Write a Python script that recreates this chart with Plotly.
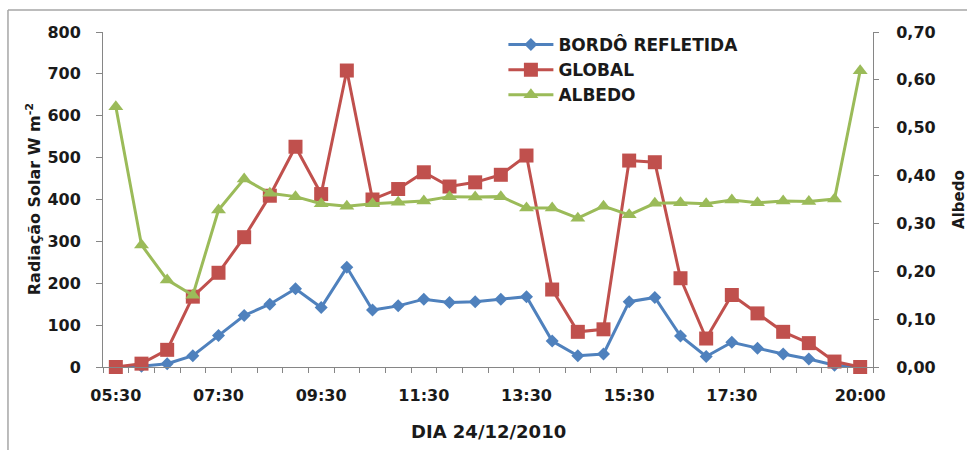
import plotly.graph_objects as go

times = ["05:30", "06:00", "06:30", "07:00", "07:30", "08:00", "08:30", "09:00", "09:30", "10:00",
         "10:30", "11:00", "11:30", "12:00", "12:30", "13:00", "13:30", "14:00", "14:30", "15:00",
         "15:30", "16:00", "16:30", "17:00", "17:30", "18:00", "18:30", "19:00", "19:30", "20:00"]

bordo_refletida = [0, 2, 8, 27, 75, 123, 150, 187, 142, 238,
                   136, 146, 162, 154, 156, 162, 168, 62, 27, 31,
                   156, 166, 74, 25, 59, 45, 31, 19, 4, 0]

global_rad = [0, 8, 41, 168, 225, 310, 409, 526, 413, 708,
              400, 425, 465, 431, 441, 459, 505, 185, 84, 90,
              493, 489, 212, 68, 172, 128, 84, 57, 13, 0]

albedo = [0.544, 0.255, 0.182, 0.150, 0.328, 0.393, 0.363, 0.356, 0.341, 0.336,
          0.341, 0.344, 0.347, 0.356, 0.355, 0.356, 0.332, 0.332, 0.311, 0.336,
          0.318, 0.342, 0.343, 0.341, 0.349, 0.343, 0.347, 0.346, 0.351, 0.619]

tick_labels = ["05:30", "07:30", "09:30", "11:30", "13:30", "15:30", "17:30", "20:00"]

BLUE = "#4F81BD"
RED = "#C0504D"
GREEN = "#9BBB59"
AXIS = "#868686"
TICKFONT = dict(family="DejaVu Sans", size=16, color="#1a1a1a", weight="bold")


def title_font(size):
    return dict(family="DejaVu Sans", size=size, color="#1a1a1a", weight="bold")


fig = go.Figure()
fig.add_trace(go.Scatter(x=times, y=bordo_refletida, name="BORDÔ REFLETIDA", mode="lines+markers",
                         line=dict(color=BLUE, width=3),
                         marker=dict(symbol="diamond", size=10, color=BLUE), cliponaxis=False))
fig.add_trace(go.Scatter(x=times, y=global_rad, name="GLOBAL", mode="lines+markers",
                         line=dict(color=RED, width=3),
                         marker=dict(symbol="square", size=14, color=RED), cliponaxis=False))
fig.add_trace(go.Scatter(x=times, y=albedo, name="ALBEDO", mode="lines+markers", yaxis="y2",
                         line=dict(color=GREEN, width=3),
                         marker=dict(symbol="triangle-up", size=13, color=GREEN), cliponaxis=False))

fig.update_layout(
    width=967, height=450,
    margin=dict(l=103, r=94, t=32, b=83, autoexpand=False),
    paper_bgcolor="white", plot_bgcolor="white",
    separators=",.",
    showlegend=True,
    legend=dict(x=0.52, y=1.015, xanchor="left", yanchor="top",
                font=dict(family="DejaVu Sans", size=17, color="#1a1a1a", weight="bold"),
                bgcolor="rgba(0,0,0,0)", itemwidth=45, tracegroupgap=0),
    xaxis=dict(type="category", categoryorder="array", categoryarray=times,
               range=[-0.5, len(times) - 0.5],
               tickvals=times, ticktext=[t if t in tick_labels else "" for t in times],
               tickson="boundaries", ticks="outside", ticklen=5, tickcolor=AXIS, tickangle=0,
               showline=True, linecolor=AXIS, linewidth=1, showgrid=False, zeroline=False,
               tickfont=TICKFONT, ticklabelstandoff=14, automargin=False),
    yaxis=dict(range=[0, 800], dtick=100, ticks="outside", ticklen=6, tickcolor=AXIS,
               showline=True, linecolor=AXIS, linewidth=1, showgrid=False, zeroline=False,
               tickfont=TICKFONT, ticklabelstandoff=12, automargin=False),
    yaxis2=dict(range=[0, 0.7], dtick=0.1, tickformat=".2f", overlaying="y", side="right",
                ticks="outside", ticklen=5, tickcolor=AXIS,
                showline=True, linecolor=AXIS, linewidth=1, showgrid=False, zeroline=False,
                tickfont=TICKFONT, ticklabelstandoff=14, automargin=False),
    annotations=[
        dict(text="DIA 24/12/2010", xref="paper", yref="paper", x=0.501, y=-0.194,
             showarrow=False, font=title_font(18), xanchor="center", yanchor="middle"),
        dict(text="Radiação Solar W m<sup>-2</sup>", xref="paper", yref="paper", x=-0.09, y=0.5,
             showarrow=False, font=title_font(16), textangle=-90, xanchor="center", yanchor="middle"),
        dict(text="Albedo", xref="paper", yref="paper", x=1.111, y=0.5,
             showarrow=False, font=title_font(15), textangle=-90, xanchor="center", yanchor="middle"),
    ],
    shapes=[
        dict(type="line", xref="paper", yref="paper", x0=-0.1234, x1=-0.1234, y0=-0.26, y1=1.0657,
             line=dict(color="#a6a6a6", width=1.5)),
        dict(type="line", xref="paper", yref="paper", x0=-0.1234, x1=1.13, y0=1.0657, y1=1.0657,
             line=dict(color="#a6a6a6", width=1.5)),
    ],
)

fig.write_html("out.html", config={"displayModeBar": False},
               post_script="document.body.style.margin='0px';document.body.style.overflow='hidden';")
